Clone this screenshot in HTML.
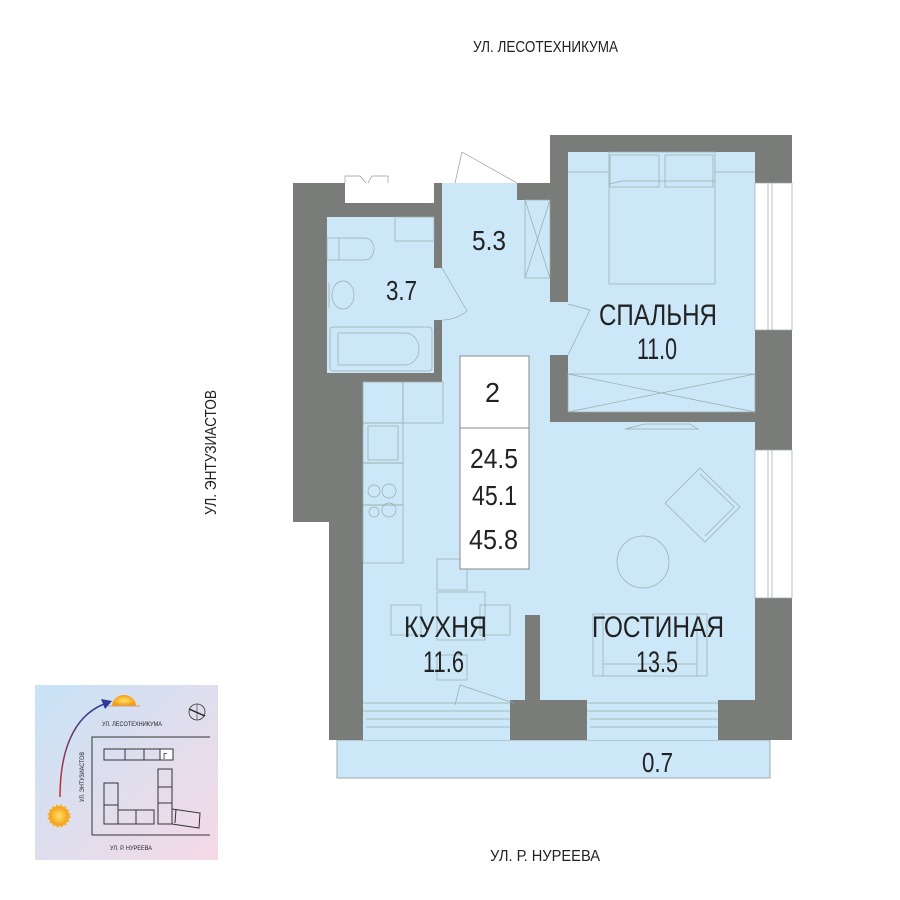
<!DOCTYPE html>
<html><head><meta charset="utf-8"><style>
html,body{margin:0;padding:0;background:#fff;}
svg{display:block}
text{font-family:"Liberation Sans",sans-serif;fill:#222}
</style></head><body>
<svg width="900" height="900" viewBox="0 0 900 900" xmlns="http://www.w3.org/2000/svg">
<defs>
<linearGradient id="g" x1="0" y1="0" x2="1" y2="1">
<stop offset="0" stop-color="#c7e3f6"/><stop offset="1" stop-color="#f6d9e6"/></linearGradient>
<linearGradient id="arc" x1="0" y1="1" x2="0" y2="0"><stop offset="0" stop-color="#d0302a"/><stop offset="1" stop-color="#2c3a9a"/></linearGradient>
<radialGradient id="sun"><stop offset="0" stop-color="#ffe36a"/><stop offset="1" stop-color="#f29a10"/></radialGradient>
</defs>

<text x="473" y="52" font-size="16" textLength="145" lengthAdjust="spacingAndGlyphs">УЛ. ЛЕСОТЕХНИКУМА</text>
<text x="490" y="861" font-size="16" textLength="110" lengthAdjust="spacingAndGlyphs">УЛ. Р. НУРЕЕВА</text>
<text transform="translate(216,515) rotate(-90)" font-size="16" textLength="125" lengthAdjust="spacingAndGlyphs">УЛ. ЭНТУЗИАСТОВ</text>

<!-- balcony -->
<rect x="337" y="740" width="433" height="38" fill="#cce8f8" stroke="#9aa" stroke-width="1"/>
<text x="642" y="772" font-size="28" textLength="31" lengthAdjust="spacingAndGlyphs">0.7</text>

<g fill="#7a7c7a">
<rect x="293" y="183" width="52" height="339"/>
<rect x="329" y="183" width="34" height="557"/>
<rect x="434" y="183" width="8" height="20"/>
<rect x="329" y="183" width="113" height="34"/>
<rect x="434" y="203" width="8" height="65"/>
<rect x="434" y="320" width="9" height="104"/>
<rect x="329" y="373" width="114" height="9"/>
<rect x="517" y="183" width="51" height="17"/>
<rect x="550" y="135" width="242" height="17"/>
<rect x="550" y="135" width="18" height="167"/>
<rect x="550" y="355" width="18" height="67"/>
<rect x="550" y="412" width="242" height="10"/>
<rect x="755" y="135" width="37" height="48"/>
<rect x="755" y="330" width="37" height="120"/>
<rect x="755" y="598" width="37" height="142"/>
<rect x="718" y="700" width="74" height="40"/>
<rect x="510" y="700" width="77" height="40"/>
<rect x="525" y="615" width="15" height="125"/>
<rect x="329" y="700" width="34" height="40"/>
</g>
<rect x="345" y="183" width="89" height="20" fill="#fff"/>
<path d="M345 183 L345 176 L360 176 L366 183 M368 183 L372 176 L388 176 L388 183" fill="none" stroke="#999" stroke-width="0.7"/>
<path d="M455 183 L462 152 L517 183" fill="none" stroke="#999" stroke-width="0.7"/>

<g fill="#cce8f8">
<rect x="327" y="217" width="107" height="156"/>
<rect x="442" y="183" width="75" height="240"/>
<rect x="442" y="200" width="108" height="225"/>
<rect x="568" y="152" width="187" height="260"/>
<rect x="363" y="382" width="162" height="318"/>
<rect x="443" y="422" width="312" height="193"/>
<rect x="540" y="422" width="215" height="278"/>
<rect x="550" y="302" width="18" height="53"/>
<rect x="434" y="268" width="9" height="52"/>
<rect x="363" y="700" width="147" height="40"/>
<rect x="587" y="700" width="131" height="40"/>
</g>
<g fill="#fff" stroke="#9aa" stroke-width="0.7">
<rect x="755" y="183" width="37" height="147"/>
<rect x="755" y="450" width="37" height="148"/>
</g>
<g stroke="#9aa" stroke-width="0.7" fill="none">
<line x1="768" y1="183" x2="768" y2="330"/><line x1="772" y1="183" x2="772" y2="330"/>
<line x1="768" y1="450" x2="768" y2="598"/><line x1="772" y1="450" x2="772" y2="598"/>
<path d="M363 703 H510 M363 711 H510 M366 719 H510 M366 727 H510"/>
<path d="M587 703 H718 M587 711 H718 M590 719 H718 M590 727 H718"/>
<rect x="395" y="217" width="39" height="24"/>
<rect x="327" y="238" width="12" height="22"/>
<path d="M339 238 H365 A9 11 0 0 1 365 260 H339"/>
<ellipse cx="343" cy="295" rx="11" ry="14"/>
<path d="M329 283 V308"/>
<rect x="330" y="327" width="102" height="44" rx="3"/>
<path d="M338 333 H405 A14 16 0 0 1 405 365 H338 Z"/>
<path d="M442 268 L467 311 A40 40 0 0 1 443 320"/>
<rect x="525" y="200" width="25" height="78"/>
<path d="M525 200 L550 278 M550 200 L525 278"/>
<path d="M568 304 L590 310 L568 355"/>
<rect x="609" y="152" width="106" height="132"/>
<rect x="610" y="155" width="49" height="32"/><rect x="665" y="155" width="48" height="32"/>
<path d="M609 184 L622 181 L715 181"/>
<path d="M568 172 H609 M715 172 H755"/>
<rect x="568" y="374" width="187" height="38"/>
<path d="M568 374 L755 412 M755 374 L568 412"/>
<path d="M625 429 L645 424 H690 L698 429 Z"/>
<path d="M700 468 L740 507 L705 542 L665 503 Z"/>
<path d="M700 474 L734 507 L705 536"/>
<circle cx="643" cy="562" r="26"/>
<rect x="593" y="614" width="114" height="62"/><path d="M603 614 V676 M697 614 V676 M603 664 H697"/>
<rect x="363" y="382" width="40" height="41"/><rect x="403" y="382" width="40" height="41"/>
<rect x="363" y="423" width="40" height="40"/><rect x="368" y="426" width="30" height="34"/>
<rect x="363" y="463" width="40" height="42"/>
<circle cx="374" cy="491" r="6"/><circle cx="389" cy="491" r="7"/><circle cx="374" cy="512" r="5"/><circle cx="389" cy="510" r="7"/>
<rect x="363" y="505" width="40" height="58"/>
<rect x="437" y="592" width="48" height="48"/>
<rect x="437" y="559" width="30" height="31"/>
<rect x="391" y="605" width="30" height="30"/><rect x="480" y="605" width="30" height="30"/>
<rect x="437" y="655" width="30" height="25"/>
<path d="M455 705 L460 685 L514 703"/>
</g>

<rect x="460" y="356" width="69" height="213" fill="#fff" stroke="#888" stroke-width="1"/>
<line x1="460" y1="428" x2="529" y2="428" stroke="#888"/>
<text x="485" y="402" font-size="28" textLength="15" lengthAdjust="spacingAndGlyphs">2</text>
<text x="470" y="468" font-size="28" textLength="48" lengthAdjust="spacingAndGlyphs">24.5</text>
<text x="472" y="505" font-size="28" textLength="45" lengthAdjust="spacingAndGlyphs">45.1</text>
<text x="469" y="549" font-size="28" textLength="49" lengthAdjust="spacingAndGlyphs">45.8</text>

<text x="472" y="250" font-size="28" textLength="34" lengthAdjust="spacingAndGlyphs">5.3</text>
<text x="386" y="300" font-size="28" textLength="31" lengthAdjust="spacingAndGlyphs">3.7</text>
<text x="599" y="325" font-size="30" textLength="118" lengthAdjust="spacingAndGlyphs">СПАЛЬНЯ</text>
<text x="637" y="359" font-size="30" textLength="40" lengthAdjust="spacingAndGlyphs">11.0</text>
<text x="404" y="637" font-size="30" textLength="83" lengthAdjust="spacingAndGlyphs">КУХНЯ</text>
<text x="423" y="672" font-size="30" textLength="41" lengthAdjust="spacingAndGlyphs">11.6</text>
<text x="592" y="637" font-size="30" textLength="132" lengthAdjust="spacingAndGlyphs">ГОСТИНАЯ</text>
<text x="636" y="672" font-size="30" textLength="42" lengthAdjust="spacingAndGlyphs">13.5</text>

<rect x="35" y="685" width="183" height="175" fill="url(#g)"/>
<path d="M60 797 C60 740 80 712 107 703" fill="none" stroke="url(#arc)" stroke-width="1.5"/>
<path d="M112 701 L101 699 L105 709 Z" fill="#2c3a9a"/>
<path d="M112 706 A12 11 0 0 1 136 706 Z" fill="url(#sun)"/>
<line x1="108" y1="706" x2="140" y2="706" stroke="#d98" stroke-width="1"/>
<circle cx="59" cy="816" r="10" fill="url(#sun)" stroke="#f5b020" stroke-width="3" stroke-dasharray="2 2"/>
<text x="102" y="726" font-size="6.5" textLength="60" lengthAdjust="spacingAndGlyphs">УЛ. ЛЕСОТЕХНИКУМА</text>
<text x="110" y="850" font-size="6.5" textLength="42" lengthAdjust="spacingAndGlyphs">УЛ. Р. НУРЕЕВА</text>
<text transform="translate(84,802) rotate(-90)" font-size="6.5" textLength="50" lengthAdjust="spacingAndGlyphs">УЛ. ЭНТУЗИАСТОВ</text>
<circle cx="197" cy="712" r="8" fill="none" stroke="#333" stroke-width="0.8"/>
<path d="M189 709 L205 716" stroke="#222" stroke-width="1.5"/><path d="M197 704 V720" stroke="#333" stroke-width="0.6"/>
<g fill="none" stroke="#333" stroke-width="1">
<path d="M92 835 V737 H210 M92 835 H210"/>
<rect x="104" y="749" width="57" height="11"/><path d="M125 749 V760 M144 749 V760"/>
<rect x="160" y="749" width="13" height="11" fill="#fff"/>
<rect x="104" y="783" width="14" height="41"/><path d="M104 805 H118"/>
<rect x="118" y="810" width="36" height="14"/><path d="M136 810 V824"/>
<rect x="158" y="769" width="14" height="55"/><path d="M158 787 H172 M158 803 H172"/>
<path d="M172 809 L200 813 L199 828 L172 824"/><path d="M176 809 L175 823"/>
</g>
<text x="163" y="759" font-size="8">Г</text>
</svg>
</body></html>
